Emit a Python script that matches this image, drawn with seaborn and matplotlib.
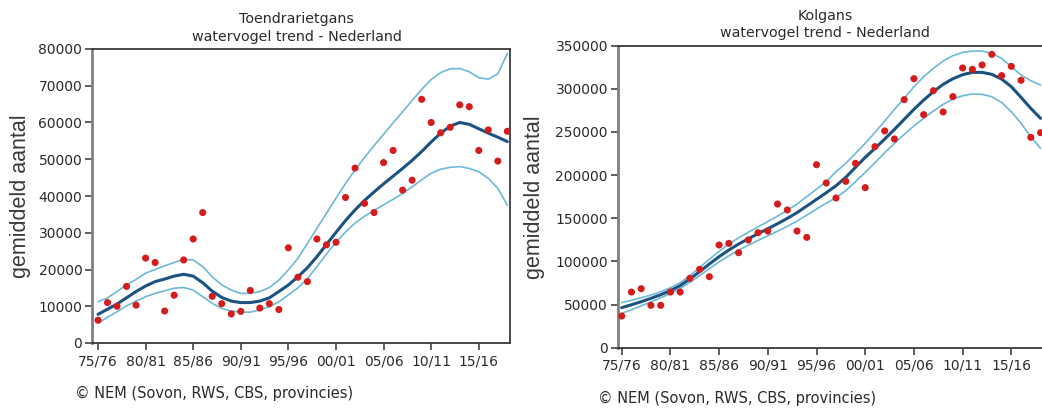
import matplotlib
matplotlib.use("Agg")
import matplotlib.pyplot as plt
import numpy as np
import pandas as pd
import seaborn as sns

# Winter seasons 1975/76 .. 2018/19 (season start year)
seasons = list(range(1975, 2019))
tick_years = [1975, 1980, 1985, 1990, 1995, 2000, 2005, 2010, 2015]
tick_labels = ["75/76", "80/81", "85/86", "90/91", "95/96",
               "00/01", "05/06", "10/11", "15/16"]

# Toendrarietgans: season indices, trend and confidence band
toendra_counts = [6200, 11000, 10000, 15400, 10300, 23100, 21900, 8700, 13000, 22600,
                  28300, 35500, 12700, 10700, 7900, 8600, 14300, 9500, 10700, 9100,
                  25900, 17900, 16700, 28300, 26700, 27400, 39600, 47600, 38000, 35500,
                  49100, 52400, 41600, 44300, 66300, 60000, 57200, 58700, 64800, 64300,
                  52400, 58000, 49500, 57600]
toendra_trend = [7800, 9200, 10600, 12300, 14000, 15500, 16700, 17400, 18200, 18700,
                 18200, 16400, 14100, 12400, 11400, 11000, 11000, 11400, 12300, 14000,
                 15800, 18000, 20500, 23500, 26800, 30100, 33300, 36200, 38800, 41100,
                 43300, 45400, 47500, 49700, 52100, 54700, 57100, 59000, 60000, 59500,
                 58300, 57100, 56000, 54800]
toendra_upper = [11200, 12300, 14000, 15800, 17300, 19000, 20000, 21000, 21900, 22800,
                 22600, 20800, 18000, 15800, 14400, 13500, 13500, 14000, 15100, 17100,
                 19900, 23000, 27100, 31200, 35300, 39400, 43400, 47100, 50500, 53700,
                 56800, 59900, 62900, 66000, 69000, 71700, 73600, 74600, 74700, 73800,
                 72200, 71800, 73200, 78800]
toendra_lower = [5400, 7000, 8500, 10100, 11400, 12600, 13500, 14200, 14900, 15100,
                 14400, 12600, 10800, 9400, 8700, 8400, 8400, 9000, 9900, 11200,
                 13100, 15000, 17500, 20800, 24200, 27400, 30200, 32600, 34500, 36100,
                 37600, 39100, 40700, 42500, 44400, 46200, 47300, 47800, 48000, 47500,
                 46600, 44800, 42100, 37500]

# Kolgans: season indices, trend and confidence band
kolgans_counts = [36700, 64500, 68400, 49100, 49100, 64500, 64500, 80400, 90800, 82300,
                  119000, 120900, 110100, 124800, 133300, 135200, 166500, 159600, 135200, 127900,
                  212100, 190900, 173500, 192800, 213700, 185500, 233000, 251200, 241900, 287500,
                  311800, 270100, 297900, 273200, 291000, 324200, 322600, 327700, 340000, 315300,
                  326100, 309900, 243800, 249200]
kolgans_trend = [46400, 49800, 53300, 57200, 61400, 66100, 71900, 79600, 88100, 97000,
                 105500, 113200, 120100, 126300, 132100, 137900, 143700, 149900, 156500, 164200,
                 171900, 179600, 187700, 197400, 209000, 220600, 231000, 241800, 253000, 264600,
                 276200, 287000, 296700, 305200, 311700, 316400, 319100, 319100, 316800, 311400,
                 302500, 290100, 277400, 265800]
kolgans_upper = [52200, 54900, 57900, 61000, 64900, 69500, 75300, 83500, 92800, 102500,
                 111700, 120000, 127300, 133900, 140000, 146200, 152500, 159300, 166500, 175000,
                 183700, 192500, 204000, 213600, 225200, 236800, 249500, 262700, 276200, 288900,
                 302500, 314100, 323700, 332200, 338400, 342300, 343800, 343800, 341100, 335300,
                 325700, 316000, 309400, 304400]
kolgans_lower = [39800, 44000, 48500, 53000, 57800, 62800, 68500, 75800, 83500, 91600,
                 99400, 106500, 113000, 118800, 124300, 129700, 135000, 140700, 146700, 153700,
                 160700, 167500, 173800, 182000, 192400, 203200, 214400, 226000, 236800, 247200,
                 256900, 265800, 274300, 282000, 288200, 292000, 294000, 293600, 290900, 284300,
                 273500, 260000, 244500, 231000]

sns.set_theme(style="ticks")
plt.rcParams["font.family"] = ["DejaVu Sans"]

TREND_COLOR = "#1b5282"
BAND_COLOR = "#6db8d8"
POINT_COLOR = "#d41c1c"
TEXT_COLOR = "#2b2b2b"

W, H = 1042, 409
fig = plt.figure(figsize=(W / 100, H / 100), dpi=100)


def px_axes(left, top, right, bottom):
    return fig.add_axes([left / W, 1 - bottom / H, (right - left) / W, (bottom - top) / H])


def draw_panel(ax, counts, trend, upper, lower, ymax, xlim, title, title_x, ylabel_x):
    df = pd.DataFrame({"seizoen": seasons, "telling": counts, "trend": trend,
                       "boven": upper, "onder": lower})
    sns.lineplot(data=df, x="seizoen", y="boven", ax=ax, color=BAND_COLOR, linewidth=1.2)
    sns.lineplot(data=df, x="seizoen", y="onder", ax=ax, color=BAND_COLOR, linewidth=1.2)
    sns.lineplot(data=df, x="seizoen", y="trend", ax=ax, color=TREND_COLOR, linewidth=2.2)
    sns.scatterplot(data=df, x="seizoen", y="telling", ax=ax, color=POINT_COLOR,
                    s=26, edgecolor="none", zorder=5, clip_on=True)
    ax.set_xlim(*xlim)
    ax.set_ylim(0, ymax)
    ax.set_xticks(tick_years)
    ax.set_xticklabels(tick_labels)
    ax.yaxis.set_major_formatter(matplotlib.ticker.FuncFormatter(lambda v, p: f"{int(v)}"))
    ax.set_xlabel("")
    ax.set_ylabel("gemiddeld aantal", fontsize=15.5, color="#3a3a3a",
                  family=["Liberation Sans", "DejaVu Sans"])
    ax.yaxis.set_label_coords(ylabel_x, 0.5)
    ax.set_title(title, fontsize=10.3, color=TEXT_COLOR, pad=6, x=title_x, linespacing=1.3)
    ax.tick_params(axis="both", direction="out", length=5, width=1.1,
                   color="#333333", labelsize=10, labelcolor=TEXT_COLOR)
    ax.tick_params(axis="y", pad=2)
    ax.tick_params(axis="x", pad=3)
    for side in ["top", "right", "bottom"]:
        ax.spines[side].set_color("#3a3a3a")
        ax.spines[side].set_linewidth(1.3)
    ax.spines["left"].set_color("#808080")
    ax.spines["left"].set_linewidth(2.0)


ax1 = px_axes(92, 49, 510, 343)
draw_panel(ax1, toendra_counts, toendra_trend, toendra_upper, toendra_lower,
           80000, (1974.37, 2018.28), "Toendrarietgans\nwatervogel trend - Nederland",
           0.49, -0.146)

ax2 = px_axes(617.7, 45.7, 1046, 347.7)
draw_panel(ax2, kolgans_counts, kolgans_trend, kolgans_upper, kolgans_lower,
           350000, (1974.59, 2018.56), "Kolgans\nwatervogel trend - Nederland",
           0.484, -0.170)

fig.text(75 / W, 1 - 393 / H, "© NEM (Sovon, RWS, CBS, provincies)", fontsize=10.5,
         color=TEXT_COLOR, va="center", ha="left")
fig.text(598 / W, 1 - 398 / H, "© NEM (Sovon, RWS, CBS, provincies)", fontsize=10.5,
         color=TEXT_COLOR, va="center", ha="left")

fig.savefig("out.png", dpi=100, facecolor="white")
